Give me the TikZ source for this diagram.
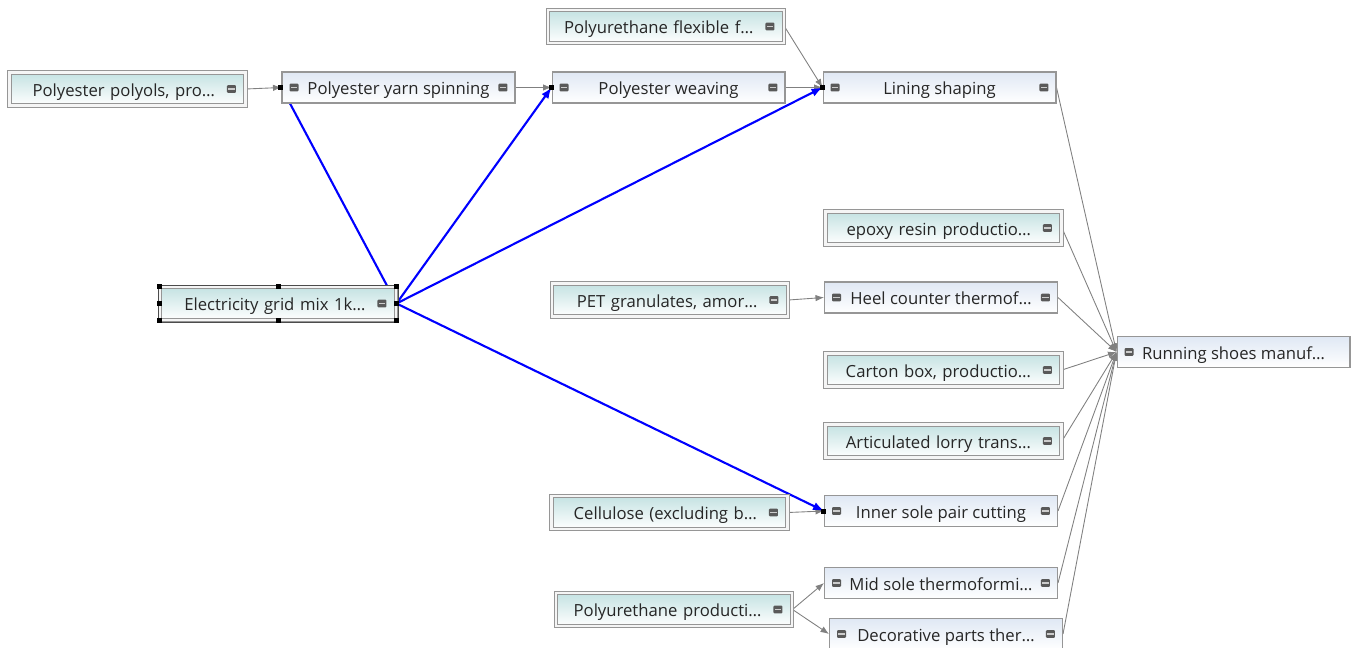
\documentclass[tikz,border=0pt]{standalone}
\usepackage{fontspec}
\setmainfont{Open Sans}
\usepackage{tikz}
\usetikzlibrary{arrows.meta}
\usetikzlibrary{calc}
\usetikzlibrary{backgrounds}
\definecolor{provtop}{RGB}{196,226,226}
\definecolor{proctop}{RGB}{224,232,244}
\definecolor{boxline}{RGB}{150,150,150}
\newcommand{\minusbtn}[2]{%
  \fill[black!65, rounded corners=0.5pt] ($(#1)+(#2cm-0.09cm,-0.076cm)$) rectangle ($(#1)+(#2cm+0.09cm,0.076cm)$);
  \fill[black!20] ($(#1)+(#2cm-0.064cm,-0.018cm)$) rectangle ($(#1)+(#2cm+0.064cm,0.018cm)$);}

\begin{document}
\begin{tikzpicture}[x=0.02cm,y=-0.02cm,font=\fontsize{9.5}{11}\selectfont,
  box/.style={draw=boxline, line width=0.6pt, top color=proctop, bottom color=white,
    text=black!85, text height=0.29cm, text depth=0pt,
    minimum width=4.66cm, minimum height=0.62cm, inner sep=0pt},
  proc/.style={box, path picture={\minusbtn{path picture bounding box.west}{0.24}
    \minusbtn{path picture bounding box.east}{-0.24}}},
  last/.style={box, path picture={\minusbtn{path picture bounding box.west}{0.24}}},
  prov/.style={draw=boxline, line width=0.6pt, double=white!92!gray, double distance=1.2pt,
    top color=provtop, bottom color=white, text=black!85, minimum height=0.66cm,
    text height=0.29cm, text depth=0pt,
    text width=4.1cm, align=right, inner xsep=0.31cm, inner ysep=0pt,
    execute at end node=\hspace*{0.3cm},
    path picture={\minusbtn{path picture bounding box.east}{-0.28}}},
  flow/.style={draw=gray, line width=0.5pt, -{Latex[length=0.17cm,width=0.13cm]}},
  elflow/.style={draw=blue, line width=1.2pt, -{Latex[length=0.22cm,width=0.17cm]}}]
\useasboundingbox (0,0) rectangle (1362,648);

\node[prov] (polyol) at (127.5,89) {Polyester polyols, pro…};
\node[proc] (spin) at (398.5,87.5) {Polyester yarn spinning};
\node[proc] (weave) at (668.5,87.5) {Polyester weaving};
\node[prov] (pufoam) at (666,26.5) {Polyurethane flexible f…};
\node[proc] (lining) at (939.5,87.5) {Lining shaping};
\node[prov] (elec) at (278,303.5) {Electricity grid mix 1k…};
\node[prov] (epoxy) at (943.5,228) {epoxy resin productio…};
\node[prov] (pet) at (670,300) {PET granulates, amor…};
\node[proc] (heel) at (941,297.5) {Heel counter thermof…};
\node[prov] (carton) at (943.5,370) {Carton box, productio…};
\node[prov] (lorry) at (943.5,441) {Articulated lorry trans…};
\node[last] (shoes) at (1233.5,352) {Running shoes manuf…};
\node[prov] (cellu) at (669.5,512.5) {Cellulose (excluding b…};
\node[proc] (inner) at (941,511) {Inner sole pair cutting};
\node[prov] (pu) at (674,609.5) {Polyurethane producti…};
\node[proc] (mid) at (941,583) {Mid sole thermoformi…};
\node[proc] (deco) at (946,634) {Decorative parts ther…};

\begin{scope}[on background layer]
\draw[flow] (polyol.east) -- (spin.west);
\draw[flow] (spin.east) -- (weave.west);
\draw[flow] (weave.east) -- (lining.west);
\draw[flow] (pufoam.east) -- (lining.west);
\draw[flow] (pet.east) -- (heel.west);
\draw[flow] (cellu.east) -- (inner.west);
\draw[flow] (pu.east) -- (mid.west);
\draw[flow] (pu.east) -- (deco.west);
\foreach \n in {lining,epoxy,heel,carton,lorry,inner,mid,deco}
	\draw[flow] (\n.east) -- (shoes.west);
\foreach \n in {spin,weave,lining,inner}
	\draw[elflow] (elec.east) -- (\n.west);
\end{scope}

\foreach \n in {spin,weave,lining,inner}
	\fill (\n.west) +(-3,-2.5) rectangle +(2,2.5);
\draw[black!70, line width=0.4pt] ([shift={(-1.5,-1.5)}]elec.north west) rectangle ([shift={(1.5,1.5)}]elec.south east);
\foreach \a in {north west,north,north east,west,east,south west,south,south east}
	\fill (elec.\a) +(-2.5,-2.5) rectangle +(2.5,2.5);

\end{tikzpicture}
\end{document}
